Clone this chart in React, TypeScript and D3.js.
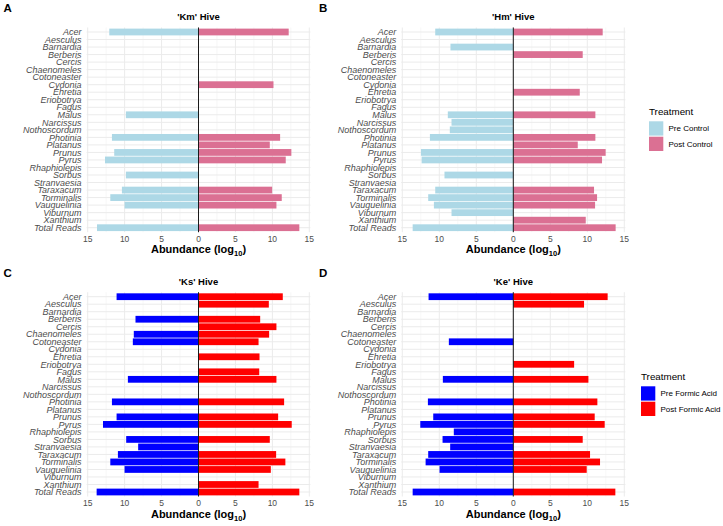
import React from "react";
import * as d3 from "d3";

const genera = [
  "Acer", "Aesculus", "Barnardia", "Berberis", "Cercis", "Chaenomeles", "Cotoneaster",
  "Cydonia", "Ehretia", "Eriobotrya", "Fagus", "Malus", "Narcissus", "Nothoscordum",
  "Photinia", "Platanus", "Prunus", "Pyrus", "Rhaphiolepis", "Sorbus", "Stranvaesia",
  "Taraxacum", "Torminalis", "Vauquelinia", "Viburnum", "Xanthium", "Total Reads",
];

const xTicks = [-15, -10, -5, 0, 5, 10, 15];

// values in log10 abundance; missing genera are absent (no bar)
const kmPre: Record<string, number> = {
  Acer: 12.08, Malus: 9.83, Photinia: 11.72, Prunus: 11.41, Pyrus: 12.66, Sorbus: 9.83,
  Taraxacum: 10.37, Torminalis: 11.94, Vauquelinia: 10.01, "Total Reads": 13.74,
};
const kmPost: Record<string, number> = {
  Acer: 12.21, Cydonia: 10.15, Photinia: 11.05, Platanus: 9.65, Prunus: 12.57, Pyrus: 11.81,
  Taraxacum: 9.97, Torminalis: 11.27, Vauquelinia: 10.55, "Total Reads": 13.65,
};
const hmPre: Record<string, number> = {
  Acer: 10.55, Barnardia: 8.49, Malus: 8.85, Narcissus: 8.35, Nothoscordum: 8.58,
  Photinia: 11.27, Prunus: 12.48, Pyrus: 12.39, Sorbus: 9.3, Taraxacum: 10.55,
  Torminalis: 11.5, Vauquelinia: 10.73, Viburnum: 8.35, "Total Reads": 13.6,
};
const hmPost: Record<string, number> = {
  Acer: 12.08, Berberis: 9.38, Ehretia: 8.98, Malus: 11.09, Photinia: 11.09, Platanus: 8.71,
  Prunus: 12.48, Pyrus: 11.99, Taraxacum: 10.91, Torminalis: 11.32, Vauquelinia: 11.05,
  Xanthium: 9.79, "Total Reads": 13.83,
};
const ksPre: Record<string, number> = {
  Acer: 11.09, Berberis: 8.53, Chaenomeles: 8.76, Cotoneaster: 8.89, Malus: 9.56,
  Photinia: 11.72, Prunus: 11.09, Pyrus: 12.93, Sorbus: 9.79, Stranvaesia: 8.17,
  Taraxacum: 10.91, Torminalis: 11.94, Vauquelinia: 10.01, "Total Reads": 13.79,
};
const ksPost: Record<string, number> = {
  Acer: 11.41, Aesculus: 9.52, Berberis: 8.35, Cercis: 10.55, Chaenomeles: 9.56,
  Cotoneaster: 8.13, Ehretia: 8.26, Fagus: 8.22, Malus: 10.55, Photinia: 11.59,
  Prunus: 10.78, Pyrus: 12.62, Sorbus: 9.65, Taraxacum: 10.51, Torminalis: 11.76,
  Vauquelinia: 9.79, Xanthium: 8.13, "Total Reads": 13.65,
};
const kePre: Record<string, number> = {
  Acer: 11.45, Cotoneaster: 8.71, Malus: 9.52, Photinia: 11.54, Prunus: 10.82, Pyrus: 12.57,
  Rhaphiolepis: 8.04, Sorbus: 9.56, Stranvaesia: 8.53, Taraxacum: 11.5, Torminalis: 11.85,
  Vauquelinia: 9.97, "Total Reads": 13.6,
};
const kePost: Record<string, number> = {
  Acer: 12.75, Aesculus: 9.56, Eriobotrya: 8.22, Malus: 10.15, Photinia: 11.36, Prunus: 11.0,
  Pyrus: 12.35, Sorbus: 9.38, Taraxacum: 10.37, Torminalis: 11.72, Vauquelinia: 9.92,
  "Total Reads": 13.79,
};

const controlLabels = ["Pre Control", "Post Control"];
const formicLabels = ["Pre Formic Acid", "Post Formic Acid"];
const controlColors = ["#ADD8E6", "#DB7093"];
const formicColors = ["#0000FF", "#FF0000"];

const FONT = "Liberation Sans, Arial, sans-serif";

type PanelProps = {
  letter: string;
  title: string;
  pre: Record<string, number>;
  post: Record<string, number>;
  colors: string[];
  x0: number; // pixel of -15
  x1: number; // pixel of 15
  yFirst: number;
  yLast: number;
  letterX: number;
};

const Panel: React.FC<PanelProps> = ({ letter, title, pre, post, colors, x0, x1, yFirst, yLast, letterX }) => {
  const x = d3.scaleLinear().domain([-15, 15]).range([x0, x1]);
  const y = d3.scalePoint<string>().domain(genera).range([yFirst, yLast]);
  const step = y.step();
  const bh = step * 0.9;
  const left = x(-15.15);
  const right = x(15.15);
  const top = yFirst - step * 0.6;
  const bottom = yLast + step * 0.6;
  const minor = d3.range(-12.5, 15, 5);
  return (
    <g fontFamily={FONT}>
      <text x={letterX} y={yFirst - 20} fontSize={11.5} fontWeight="bold" fill="#000">{letter}</text>
      <text x={x(0)} y={yFirst - 12} fontSize={9.5} fontWeight="bold" textAnchor="middle" fill="#000">{title}</text>
      {minor.map((v) => (
        <line key={"m" + v} x1={x(v)} x2={x(v)} y1={top} y2={bottom} stroke="#F2F2F2" strokeWidth={0.6} />
      ))}
      {xTicks.map((v) => (
        <line key={"g" + v} x1={x(v)} x2={x(v)} y1={top} y2={bottom} stroke="#EBEBEB" strokeWidth={1} />
      ))}
      {genera.map((g) => (
        <line key={"h" + g} x1={left} x2={right} y1={y(g)!} y2={y(g)!} stroke="#EBEBEB" strokeWidth={1} />
      ))}
      {genera.map((g) =>
        pre[g] !== undefined ? (
          <rect key={"p" + g} x={x(-pre[g])} width={x(0) - x(-pre[g])} y={y(g)! - bh / 2} height={bh} fill={colors[0]} />
        ) : null
      )}
      {genera.map((g) =>
        post[g] !== undefined ? (
          <rect key={"q" + g} x={x(0)} width={x(post[g]) - x(0)} y={y(g)! - bh / 2} height={bh} fill={colors[1]} />
        ) : null
      )}
      <line x1={x(0)} x2={x(0)} y1={top} y2={bottom} stroke="#1a1a1a" strokeWidth={1} />
      {genera.map((g) => (
        <text key={"l" + g} x={left - 5} y={y(g)! + 3.2} fontSize={9} fontStyle="italic" textAnchor="end" fill="#4D4D4D">{g}</text>
      ))}
      {xTicks.map((v) => (
        <text key={"t" + v} x={x(v)} y={bottom + 9.5} fontSize={8.5} textAnchor="middle" fill="#4D4D4D">{Math.abs(v)}</text>
      ))}
      <text x={x(0)} y={bottom + 21} fontSize={11} fontWeight="bold" textAnchor="middle" fill="#000">
        Abundance (log<tspan fontSize={7.5} dy={3}>10</tspan><tspan dy={-3}>)</tspan>
      </text>
    </g>
  );
};

const Legend: React.FC<{ x: number; y: number; labels: string[]; colors: string[] }> = ({ x, y, labels, colors }) => (
  <g fontFamily={FONT}>
    <text x={x} y={y} fontSize={9.8} fill="#000">Treatment</text>
    {labels.map((l, i) => (
      <g key={l}>
        <rect x={x} y={y + 6.3 + i * 15.4} width={14.3} height={14.3} fill={colors[i]} />
        <text x={x + 19.5} y={y + 16.3 + i * 15.4} fontSize={8} fill="#000">{l}</text>
      </g>
    ))}
  </g>
);

export default function App() {
  return (
    <svg width={723} height={526} style={{ display: "block", position: "absolute", left: 0, top: 0 }}>
      <rect width={723} height={526} fill="#fff" />
      <Panel letter="A" title="'Km' Hive" pre={kmPre} post={kmPost} colors={controlColors}
        x0={87.7} x1={309.3} yFirst={32} yLast={227.7} letterX={3.5} />
      <Panel letter="B" title="'Hm' Hive" pre={hmPre} post={hmPost} colors={controlColors}
        x0={402.3} x1={624.3} yFirst={32} yLast={227.7} letterX={319} />
      <Panel letter="C" title="'Ks' Hive" pre={ksPre} post={ksPost} colors={formicColors}
        x0={87.7} x1={309.3} yFirst={296.7} yLast={492} letterX={3.5} />
      <Panel letter="D" title="'Ke' Hive" pre={kePre} post={kePost} colors={formicColors}
        x0={402.3} x1={624.3} yFirst={296.7} yLast={492} letterX={319} />
      <Legend x={649} y={115} labels={controlLabels} colors={controlColors} />
      <Legend x={641} y={380} labels={formicLabels} colors={formicColors} />
    </svg>
  );
}
